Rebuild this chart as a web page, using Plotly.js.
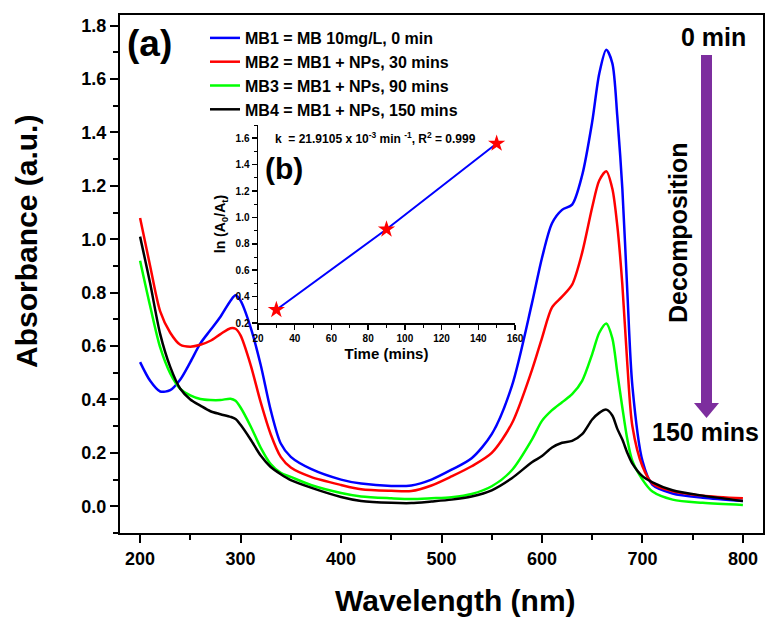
<!DOCTYPE html>
<html>
<head>
<meta charset="utf-8">
<script src="https://cdn.plot.ly/plotly-3.0.1.min.js"></script>
<style>
  html, body { margin: 0; padding: 0; background: #fff; }
  #chart { width: 777px; height: 626px; }
</style>
</head>
<body>
<div id="chart"></div>
<script>
// UV-vis spectra of MB during photocatalytic decomposition
var wavelength = [200, 210, 220, 230, 240, 250, 260, 270, 280, 290, 295, 300, 310, 320, 330, 340, 350, 370,
                  400, 420, 450, 470, 490, 510, 530, 550, 570, 590, 600, 610, 620, 630, 640, 650, 657, 664,
                  670, 675, 680, 685, 690, 700, 710, 730, 760, 800];
var absMB1 = [0.54, 0.47, 0.43, 0.435, 0.475, 0.54, 0.61, 0.66, 0.71, 0.77, 0.79, 0.77, 0.67, 0.53, 0.36, 0.235, 0.185, 0.14,
              0.10, 0.085, 0.076, 0.078, 0.10, 0.137, 0.18, 0.27, 0.45, 0.76, 0.93, 1.06, 1.11, 1.13, 1.24, 1.44, 1.62, 1.71,
              1.66, 1.46, 1.19, 0.80, 0.45, 0.17, 0.08, 0.048, 0.032, 0.02];
var absMB2 = [1.08, 0.90, 0.73, 0.65, 0.605, 0.598, 0.605, 0.62, 0.645, 0.667, 0.665, 0.64, 0.53, 0.39, 0.27, 0.185, 0.145, 0.11,
              0.08, 0.064, 0.058, 0.057, 0.078, 0.112, 0.15, 0.20, 0.31, 0.51, 0.63, 0.745, 0.785, 0.83, 0.95, 1.12, 1.22, 1.255,
              1.19, 1.05, 0.83, 0.53, 0.30, 0.15, 0.085, 0.056, 0.04, 0.03];
var absMB3 = [0.92, 0.75, 0.595, 0.498, 0.44, 0.415, 0.402, 0.398, 0.398, 0.403, 0.395, 0.37, 0.30, 0.22, 0.158, 0.125, 0.11, 0.08,
              0.05, 0.037, 0.03, 0.027, 0.03, 0.034, 0.046, 0.075, 0.135, 0.25, 0.32, 0.36, 0.39, 0.42, 0.47, 0.57, 0.65, 0.685,
              0.63, 0.50, 0.37, 0.25, 0.17, 0.10, 0.055, 0.025, 0.013, 0.005];
var absMB4 = [1.01, 0.835, 0.645, 0.522, 0.44, 0.40, 0.377, 0.356, 0.345, 0.335, 0.327, 0.305, 0.25, 0.19, 0.147, 0.12, 0.098, 0.07,
              0.035, 0.02, 0.013, 0.012, 0.018, 0.025, 0.037, 0.06, 0.105, 0.165, 0.188, 0.22, 0.238, 0.245, 0.27, 0.325, 0.35, 0.362,
              0.34, 0.29, 0.25, 0.20, 0.16, 0.113, 0.09, 0.06, 0.04, 0.02];
var seriesNames = ['MB1 = MB 10mg/L, 0 min', 'MB2 = MB1 + NPs, 30 mins', 'MB3 = MB1 + NPs, 90 mins', 'MB4 = MB1 + NPs, 150 mins'];
var seriesColors = ['#0000ff', '#ff0000', '#00ff00', '#000000'];

// inset (b): first order kinetics
var insetTime = [30, 90, 150];
var insetLnRatio = [0.30, 0.91, 1.56];

var fontFam = 'Liberation Sans, Arial, sans-serif';
function bold(size, color) {
  return {family: fontFam, size: size, weight: 'bold', color: color || '#000'};
}

var allAbs = [absMB1, absMB2, absMB3, absMB4];
var data = [];
for (var i = 0; i < allAbs.length; i++) {
  data.push({
    x: wavelength, y: allAbs[i], name: seriesNames[i],
    type: 'scatter', mode: 'lines',
    line: {color: seriesColors[i], width: 2.5, shape: 'spline', smoothing: 0.8},
    xaxis: 'x', yaxis: 'y'
  });
}
data.push({
  x: insetTime, y: insetLnRatio, type: 'scatter', mode: 'lines+markers',
  line: {color: '#0000ff', width: 2},
  marker: {symbol: 'star', color: '#ff0000', size: 13, line: {width: 0}},
  xaxis: 'x2', yaxis: 'y2', showlegend: false
});

// paper helpers for decorations (plot area is 643 x 518 px)
function px(xp) { return (xp - 120) / 643; }
function py(yp) { return (533 - yp) / 518; }
var purple = '#7d2e9e';
function label(text, xp, yp, size, angle) {
  return {text: text, xref: 'paper', yref: 'paper', x: px(xp), y: py(yp), xanchor: 'center', yanchor: 'middle',
          textangle: angle || 0, showarrow: false, font: bold(size)};
}

var layout = {
  width: 777, height: 626,
  margin: {l: 120, r: 14, t: 15, b: 93},
  paper_bgcolor: '#fff', plot_bgcolor: '#fff',
  showlegend: true,
  legend: {x: px(205), y: py(21), xanchor: 'left', yanchor: 'top',
           bgcolor: 'rgba(0,0,0,0)', font: bold(16), tracegroupgap: 0},
  xaxis: {
    range: [180, 820], domain: [0, 1], anchor: 'y',
    showline: true, linecolor: '#000', linewidth: 2, mirror: true,
    ticks: 'outside', ticklen: 8, tickwidth: 2, tickcolor: '#000', dtick: 100, tick0: 0,
    minor: {dtick: 50, ticks: 'outside', ticklen: 5, tickwidth: 2, tickcolor: '#000'},
    showgrid: false, zeroline: false, tickfont: bold(18)
  },
  yaxis: {
    range: [-0.1, 1.84], domain: [0, 1], anchor: 'x',
    showline: true, linecolor: '#000', linewidth: 2, mirror: true,
    ticks: 'outside', ticklen: 8, tickwidth: 2, tickcolor: '#000', dtick: 0.2, tick0: 0, tickformat: '.1f',
    minor: {dtick: 0.1, ticks: 'outside', ticklen: 5, tickwidth: 2, tickcolor: '#000'},
    showgrid: false, zeroline: false, tickfont: bold(18)
  },
  xaxis2: {
    range: [20, 160], domain: [px(258), px(515)], anchor: 'y2',
    showline: true, linecolor: '#000', linewidth: 1.5,
    ticks: 'outside', ticklen: 5, tickwidth: 1.5, tickcolor: '#000', dtick: 20, tick0: 0,
    minor: {dtick: 10, ticks: 'outside', ticklen: 3, tickwidth: 1, tickcolor: '#000'},
    showgrid: false, zeroline: false, tickfont: bold(10),
    title: {text: 'Time (mins)', font: bold(15), standoff: 6}
  },
  yaxis2: {
    range: [0.2, 1.7], domain: [py(323), py(125)], anchor: 'x2',
    showline: true, linecolor: '#000', linewidth: 1.5,
    ticks: 'outside', ticklen: 5, tickwidth: 1.5, tickcolor: '#000', dtick: 0.2, tick0: 0, tickformat: '.1f',
    minor: {dtick: 0.1, ticks: 'outside', ticklen: 3, tickwidth: 1, tickcolor: '#000'},
    showgrid: false, zeroline: false, tickfont: bold(10),
    title: {text: 'ln (A<sub>0</sub>/A<sub>t</sub>)', font: bold(14), standoff: 6}
  },
  shapes: [
    {type: 'rect', xref: 'paper', yref: 'paper', x0: px(701), x1: px(712), y0: py(404), y1: py(55),
     fillcolor: purple, line: {width: 0}},
    {type: 'path', xref: 'paper', yref: 'paper',
     path: 'M ' + px(694) + ' ' + py(403) + ' L ' + px(719) + ' ' + py(403) + ' L ' + px(706.5) + ' ' + py(418) + ' Z',
     fillcolor: purple, line: {width: 0}}
  ],
  annotations: [
    label('Wavelength (nm)', 455, 600, 30),
    label('Absorbance (a.u.)', 26, 242, 30, -90),
    label('(a)', 149, 43, 37),
    label('0 min', 713, 37, 25),
    label('150 mins', 705, 432, 25),
    label('Decomposition', 678, 233, 25, -90),
    label('(b)', 284, 169, 30),
    {text: 'k  = 21.9105 x 10<sup>-3</sup> min <sup>-1</sup>, R<sup>2</sup> = 0.999', xref: 'x2', yref: 'y2',
     x: 28, y: 1.605, xanchor: 'left', yanchor: 'middle', showarrow: false, font: bold(12)}
  ]
};

Plotly.newPlot('chart', data, layout, {displayModeBar: false, staticPlot: true});
</script>
</body>
</html>
